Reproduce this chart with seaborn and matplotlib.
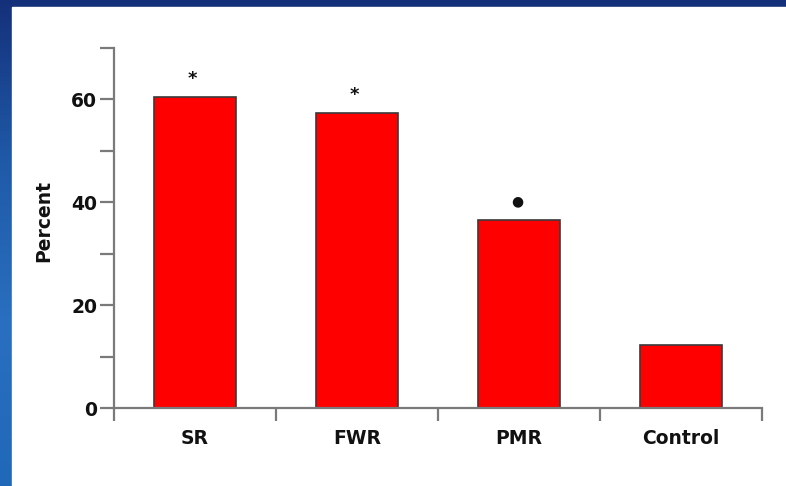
import numpy as np
import pandas as pd
import matplotlib
matplotlib.use("Agg")
import matplotlib.pyplot as plt
from matplotlib.ticker import FixedLocator
import seaborn as sns

# Data
groups = ["SR", "FWR", "PMR", "Control"]
percent = [60.4, 57.3, 36.6, 12.2]
marks = ["*", "*", "\u25CF", ""]

sns.set_style("white")
plt.rcParams["font.family"] = ["DejaVu Sans"]

W, H, DPI = 786, 486, 100
fig = plt.figure(figsize=(W / DPI, H / DPI), dpi=DPI)

# Slide-style backdrop: blue gradient with a white panel on top
bg = fig.add_axes([0, 0, 1, 1], zorder=-2)
grad = np.linspace(0, 1, 256).reshape(-1, 1)
cmap = matplotlib.colors.LinearSegmentedColormap.from_list(
    "slide", ["#15307a", "#1f5aa8", "#2a6fc0", "#2068b8"])
bg.imshow(grad, aspect="auto", cmap=cmap, extent=[0, 1, 0, 1], origin="upper")
bg.add_patch(plt.Rectangle((12 / W, 0), 1 - 12 / W, 1 - 7 / H,
                           transform=bg.transAxes, color="white", zorder=2))
bg.set_axis_off()

ax = fig.add_axes([114 / W, (H - 408) / H, (762 - 114) / W, (408 - 48) / H])
ax.patch.set_alpha(0)

df = pd.DataFrame({"group": groups, "percent": percent})
sns.barplot(data=df, x="group", y="percent", ax=ax, color="#ff0000",
            saturation=1, width=0.51, edgecolor="#3a3a3a", linewidth=1.2)

ax.set_xlim(-0.5, 3.5)
ax.set_ylim(0, 70)

axis_col = "#7a7a7a"
for side in ("top", "right"):
    ax.spines[side].set_visible(False)
for side in ("left", "bottom"):
    ax.spines[side].set_color(axis_col)
    ax.spines[side].set_linewidth(1.6)

text_col = "#111111"
fs = 13.5

# y ticks: labelled every 20, unlabelled every 10
ax.yaxis.set_major_locator(FixedLocator([0, 20, 40, 60]))
ax.yaxis.set_minor_locator(FixedLocator([10, 30, 50, 70]))
ax.tick_params(axis="y", which="both", direction="out", length=10,
               width=1.6, color=axis_col, left=True)
ax.tick_params(axis="y", which="major", pad=2, labelsize=fs,
               labelcolor=text_col)
for lab in ax.get_yticklabels():
    lab.set_fontweight("bold")

# x ticks at category boundaries, labels centred under bars
ax.xaxis.set_major_locator(FixedLocator([-0.5, 0.5, 1.5, 2.5, 3.5]))
ax.tick_params(axis="x", which="major", direction="out", length=9,
               width=1.6, color=axis_col, bottom=True, labelbottom=False)
ax.set_xticks([0, 1, 2, 3], minor=True)
ax.set_xticklabels(groups, minor=True, fontweight="bold", color=text_col)
ax.tick_params(axis="x", which="minor", length=0, pad=15, labelsize=fs)

ax.set_xlabel("")
ax.set_ylabel("Percent", fontsize=13.5, fontweight="bold", color=text_col)
ax.yaxis.set_label_coords(-0.094, 0.52)

# significance markers above bars
for i, (v, m) in enumerate(zip(percent, marks)):
    if not m:
        continue
    if m == "*":
        ax.annotate(m, (i, v), xytext=(-2, 7), textcoords="offset points",
                    ha="center", va="bottom", fontsize=13, fontweight="bold",
                    color=text_col)
    else:
        ax.annotate(m, (i, v), xytext=(-1, 8), textcoords="offset points",
                    ha="center", va="bottom", fontsize=10, color=text_col)

fig.savefig("out.png", dpi=DPI)
